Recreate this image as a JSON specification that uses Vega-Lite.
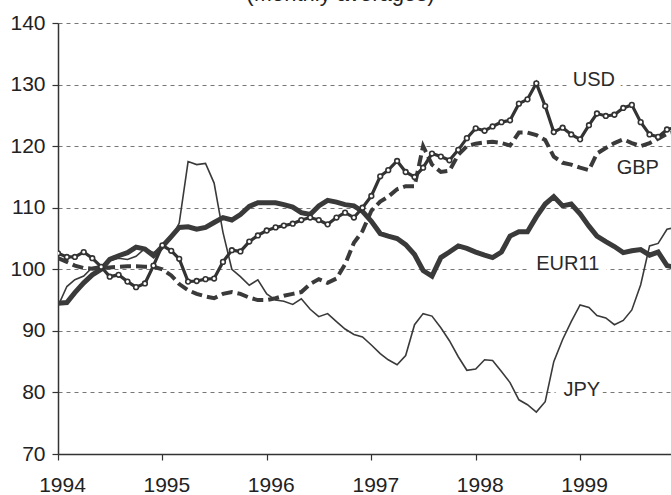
{
  "$schema": "https://vega.github.io/schema/vega-lite/v6.json",
  "width": 613,
  "height": 431,
  "autosize": {"type": "none"},
  "padding": {"left": 58, "top": 23, "right": 0, "bottom": 41},
  "background": "white",
  "title": {"text": "(Monthly averages)", "fontSize": 22, "font": "Liberation Sans", "fontWeight": "normal", "color": "#222", "anchor": "middle", "offset": 3, "baseline": "alphabetic", "dx": -24, "dy": 14},
  "config": {
    "view": {"stroke": null},
    "font": "Liberation Sans",
    "axisX": {"grid": false, "domainColor": "#333", "domainWidth": 1.5, "tickColor": "#333", "tickWidth": 1.2, "tickSize": 6, "labelFont": "Liberation Sans", "labelFontSize": 21, "labelColor": "#222", "labelPadding": 14, "labelOffset": 4, "labelFlush": false, "labelOverlap": false, "format": "%Y", "title": null},
    "axisY": {"grid": true, "gridColor": "#777", "gridDash": [4, 4], "gridWidth": 1, "domainColor": "#333", "domainWidth": 1.5, "tickColor": "#333", "tickWidth": 1.2, "tickSize": 6, "labelFont": "Liberation Sans", "labelFontSize": 21, "labelColor": "#222", "labelPadding": 7, "labelOverlap": false, "labelFlush": false, "title": null}
  },
  "datasets": {
    "fx": [
      {"date": "1994-01-01", "USD": 102.6, "GBP": 101.8, "EUR11": 94.5, "JPY": 94.0},
      {"date": "1994-02-01", "USD": 102.0, "GBP": 101.2, "EUR11": 94.6, "JPY": 97.2},
      {"date": "1994-03-01", "USD": 102.0, "GBP": 100.6, "EUR11": 96.2, "JPY": 98.3},
      {"date": "1994-04-01", "USD": 102.8, "GBP": 100.2, "EUR11": 97.8, "JPY": 98.9},
      {"date": "1994-05-01", "USD": 101.8, "GBP": 100.1, "EUR11": 99.1, "JPY": 100.3},
      {"date": "1994-06-01", "USD": 100.4, "GBP": 100.2, "EUR11": 100.0, "JPY": 100.6},
      {"date": "1994-07-01", "USD": 98.8, "GBP": 100.3, "EUR11": 101.6, "JPY": 101.4},
      {"date": "1994-08-01", "USD": 99.1, "GBP": 100.4, "EUR11": 102.2, "JPY": 101.8},
      {"date": "1994-09-01", "USD": 98.0, "GBP": 100.5, "EUR11": 102.7, "JPY": 101.6},
      {"date": "1994-10-01", "USD": 97.1, "GBP": 100.5, "EUR11": 103.6, "JPY": 102.1},
      {"date": "1994-11-01", "USD": 97.7, "GBP": 100.4, "EUR11": 103.3, "JPY": 103.4},
      {"date": "1994-12-01", "USD": 100.6, "GBP": 100.4, "EUR11": 102.2, "JPY": 102.7},
      {"date": "1995-01-01", "USD": 103.9, "GBP": 100.0, "EUR11": 103.7, "JPY": 103.6},
      {"date": "1995-02-01", "USD": 103.0, "GBP": 99.0, "EUR11": 105.3, "JPY": 105.0},
      {"date": "1995-03-01", "USD": 101.7, "GBP": 97.6, "EUR11": 106.8, "JPY": 107.5},
      {"date": "1995-04-01", "USD": 98.0, "GBP": 96.6, "EUR11": 106.9, "JPY": 117.5},
      {"date": "1995-05-01", "USD": 98.1, "GBP": 96.0, "EUR11": 106.5, "JPY": 117.0},
      {"date": "1995-06-01", "USD": 98.4, "GBP": 95.6, "EUR11": 106.8, "JPY": 117.2},
      {"date": "1995-07-01", "USD": 98.5, "GBP": 95.3, "EUR11": 107.6, "JPY": 114.0},
      {"date": "1995-08-01", "USD": 101.2, "GBP": 96.0, "EUR11": 108.4, "JPY": 106.0},
      {"date": "1995-09-01", "USD": 103.1, "GBP": 96.3, "EUR11": 108.0, "JPY": 100.0},
      {"date": "1995-10-01", "USD": 102.9, "GBP": 96.0, "EUR11": 108.9, "JPY": 98.8},
      {"date": "1995-11-01", "USD": 104.5, "GBP": 95.4, "EUR11": 110.2, "JPY": 97.4},
      {"date": "1995-12-01", "USD": 105.5, "GBP": 95.0, "EUR11": 110.8, "JPY": 98.3},
      {"date": "1996-01-01", "USD": 106.3, "GBP": 95.0, "EUR11": 110.8, "JPY": 96.0},
      {"date": "1996-02-01", "USD": 106.8, "GBP": 95.3, "EUR11": 110.8, "JPY": 95.0},
      {"date": "1996-03-01", "USD": 107.1, "GBP": 95.7, "EUR11": 110.5, "JPY": 94.8},
      {"date": "1996-04-01", "USD": 107.4, "GBP": 96.0, "EUR11": 110.1, "JPY": 94.3},
      {"date": "1996-05-01", "USD": 108.0, "GBP": 96.3, "EUR11": 109.2, "JPY": 95.2},
      {"date": "1996-06-01", "USD": 108.4, "GBP": 97.6, "EUR11": 108.9, "JPY": 93.5},
      {"date": "1996-07-01", "USD": 108.0, "GBP": 98.4, "EUR11": 110.3, "JPY": 92.3},
      {"date": "1996-08-01", "USD": 107.3, "GBP": 97.8, "EUR11": 111.2, "JPY": 92.8},
      {"date": "1996-09-01", "USD": 108.4, "GBP": 98.5, "EUR11": 110.9, "JPY": 91.5},
      {"date": "1996-10-01", "USD": 109.2, "GBP": 100.8, "EUR11": 110.5, "JPY": 90.3},
      {"date": "1996-11-01", "USD": 108.4, "GBP": 104.3, "EUR11": 110.3, "JPY": 89.4},
      {"date": "1996-12-01", "USD": 110.0, "GBP": 106.2, "EUR11": 109.4, "JPY": 89.0},
      {"date": "1997-01-01", "USD": 111.9, "GBP": 109.5, "EUR11": 107.8, "JPY": 87.7},
      {"date": "1997-02-01", "USD": 115.1, "GBP": 111.0, "EUR11": 105.8, "JPY": 86.3},
      {"date": "1997-03-01", "USD": 116.1, "GBP": 111.8, "EUR11": 105.4, "JPY": 85.3},
      {"date": "1997-04-01", "USD": 117.6, "GBP": 113.0, "EUR11": 105.0, "JPY": 84.5},
      {"date": "1997-05-01", "USD": 115.8, "GBP": 113.5, "EUR11": 104.0, "JPY": 86.0},
      {"date": "1997-06-01", "USD": 115.0, "GBP": 113.5, "EUR11": 102.4, "JPY": 91.0},
      {"date": "1997-07-01", "USD": 116.5, "GBP": 120.0, "EUR11": 99.8, "JPY": 92.8},
      {"date": "1997-08-01", "USD": 118.8, "GBP": 117.0, "EUR11": 98.9, "JPY": 92.4},
      {"date": "1997-09-01", "USD": 118.3, "GBP": 115.8, "EUR11": 101.9, "JPY": 90.5},
      {"date": "1997-10-01", "USD": 117.7, "GBP": 116.0, "EUR11": 102.8, "JPY": 88.4},
      {"date": "1997-11-01", "USD": 119.4, "GBP": 118.6, "EUR11": 103.8, "JPY": 85.8},
      {"date": "1997-12-01", "USD": 121.3, "GBP": 120.0, "EUR11": 103.4, "JPY": 83.6},
      {"date": "1998-01-01", "USD": 122.9, "GBP": 120.4, "EUR11": 102.8, "JPY": 83.8},
      {"date": "1998-02-01", "USD": 122.5, "GBP": 120.6, "EUR11": 102.3, "JPY": 85.3},
      {"date": "1998-03-01", "USD": 123.2, "GBP": 120.7, "EUR11": 101.9, "JPY": 85.2},
      {"date": "1998-04-01", "USD": 123.9, "GBP": 120.5, "EUR11": 102.8, "JPY": 83.4},
      {"date": "1998-05-01", "USD": 124.2, "GBP": 120.1, "EUR11": 105.4, "JPY": 81.6},
      {"date": "1998-06-01", "USD": 126.9, "GBP": 122.2, "EUR11": 106.1, "JPY": 78.8},
      {"date": "1998-07-01", "USD": 127.6, "GBP": 122.2, "EUR11": 106.1, "JPY": 78.0},
      {"date": "1998-08-01", "USD": 130.2, "GBP": 121.8, "EUR11": 108.5, "JPY": 76.8},
      {"date": "1998-09-01", "USD": 126.5, "GBP": 121.0, "EUR11": 110.6, "JPY": 78.5},
      {"date": "1998-10-01", "USD": 122.3, "GBP": 118.3, "EUR11": 111.8, "JPY": 85.0},
      {"date": "1998-11-01", "USD": 123.0, "GBP": 117.3, "EUR11": 110.3, "JPY": 88.6},
      {"date": "1998-12-01", "USD": 121.9, "GBP": 117.0, "EUR11": 110.6, "JPY": 91.5},
      {"date": "1999-01-01", "USD": 121.1, "GBP": 116.5, "EUR11": 109.0, "JPY": 94.2},
      {"date": "1999-02-01", "USD": 123.4, "GBP": 116.1, "EUR11": 107.0, "JPY": 93.8},
      {"date": "1999-03-01", "USD": 125.3, "GBP": 118.8, "EUR11": 105.4, "JPY": 92.5},
      {"date": "1999-04-01", "USD": 124.9, "GBP": 119.7, "EUR11": 104.5, "JPY": 92.1},
      {"date": "1999-05-01", "USD": 125.1, "GBP": 120.5, "EUR11": 103.7, "JPY": 91.0},
      {"date": "1999-06-01", "USD": 126.2, "GBP": 121.1, "EUR11": 102.7, "JPY": 91.7},
      {"date": "1999-07-01", "USD": 126.7, "GBP": 120.5, "EUR11": 103.0, "JPY": 93.4},
      {"date": "1999-08-01", "USD": 123.9, "GBP": 120.0, "EUR11": 103.2, "JPY": 97.5},
      {"date": "1999-09-01", "USD": 121.9, "GBP": 120.5, "EUR11": 102.3, "JPY": 103.8},
      {"date": "1999-10-01", "USD": 121.5, "GBP": 121.2, "EUR11": 102.8, "JPY": 104.2},
      {"date": "1999-11-01", "USD": 122.7, "GBP": 122.0, "EUR11": 100.6, "JPY": 106.5},
      {"date": "1999-12-01", "USD": 123.0, "GBP": 122.3, "EUR11": 100.3, "JPY": 106.8}
    ],
    "labels": [
      {"date": "1999-02-18", "value": 130.7, "text": "USD"},
      {"date": "1999-07-22", "value": 116.4, "text": "GBP"},
      {"date": "1998-11-19", "value": 100.9, "text": "EUR11"},
      {"date": "1999-01-07", "value": 80.4, "text": "JPY"}
    ]
  },
  "layer": [
    {
      "data": {"name": "labels"},
      "mark": {"type": "text", "fontSize": 20, "font": "Liberation Sans", "fill": "white", "stroke": "white", "strokeWidth": 16, "align": "center", "baseline": "middle"},
      "encoding": {
        "x": {"field": "date", "type": "temporal", "title": null, "scale": {"type": "utc", "domain": [{"year": 1994, "month": 1, "date": 1, "utc": true}, {"year": 1999, "month": 11, "date": 15, "utc": true}]}, "axis": {"values": [{"year": 1994, "month": 1, "date": 1, "utc": true}, {"year": 1995, "month": 1, "date": 1, "utc": true}, {"year": 1996, "month": 1, "date": 1, "utc": true}, {"year": 1997, "month": 1, "date": 1, "utc": true}, {"year": 1998, "month": 1, "date": 1, "utc": true}, {"year": 1999, "month": 1, "date": 1, "utc": true}]}},
        "y": {"field": "value", "type": "quantitative", "title": null, "scale": {"domain": [70, 140]}, "axis": {"values": [70, 80, 90, 100, 110, 120, 130, 140]}},
        "text": {"field": "text"}
      }
    },
    {
      "mark": {"type": "rule", "color": "#444", "strokeWidth": 1.5},
      "encoding": {"y": {"datum": 140, "type": "quantitative", "scale": {"domain": [70, 140]}, "title": null}}
    },
    {
      "data": {"name": "fx"},
      "mark": {"type": "line", "color": "#3a3a3a", "strokeWidth": 1.6, "clip": true},
      "encoding": {
        "x": {"field": "date", "type": "temporal", "title": null, "scale": {"type": "utc", "domain": [{"year": 1994, "month": 1, "date": 1, "utc": true}, {"year": 1999, "month": 11, "date": 15, "utc": true}]}},
        "y": {"field": "JPY", "type": "quantitative", "title": null, "scale": {"domain": [70, 140]}}
      }
    },
    {
      "data": {"name": "fx"},
      "mark": {"type": "line", "color": "#3a3a3a", "strokeWidth": 4, "strokeDash": [11, 5], "clip": true},
      "encoding": {
        "x": {"field": "date", "type": "temporal", "title": null, "scale": {"type": "utc", "domain": [{"year": 1994, "month": 1, "date": 1, "utc": true}, {"year": 1999, "month": 11, "date": 15, "utc": true}]}},
        "y": {"field": "GBP", "type": "quantitative", "title": null, "scale": {"domain": [70, 140]}}
      }
    },
    {
      "data": {"name": "fx"},
      "mark": {"type": "line", "color": "#3a3a3a", "strokeWidth": 5, "clip": true},
      "encoding": {
        "x": {"field": "date", "type": "temporal", "title": null, "scale": {"type": "utc", "domain": [{"year": 1994, "month": 1, "date": 1, "utc": true}, {"year": 1999, "month": 11, "date": 15, "utc": true}]}},
        "y": {"field": "EUR11", "type": "quantitative", "title": null, "scale": {"domain": [70, 140]}}
      }
    },
    {
      "data": {"name": "fx"},
      "mark": {"type": "line", "color": "#333", "strokeWidth": 3.2, "clip": true, "point": {"filled": false, "fill": "white", "stroke": "#333", "strokeWidth": 1.6, "size": 22, "clip": true}},
      "encoding": {
        "x": {"field": "date", "type": "temporal", "title": null, "scale": {"type": "utc", "domain": [{"year": 1994, "month": 1, "date": 1, "utc": true}, {"year": 1999, "month": 11, "date": 15, "utc": true}]}},
        "y": {"field": "USD", "type": "quantitative", "title": null, "scale": {"domain": [70, 140]}}
      }
    },
    {
      "data": {"name": "labels"},
      "mark": {"type": "text", "fontSize": 20, "font": "Liberation Sans", "color": "#2a2a2a", "align": "center", "baseline": "middle"},
      "encoding": {
        "x": {"field": "date", "type": "temporal", "title": null, "scale": {"type": "utc", "domain": [{"year": 1994, "month": 1, "date": 1, "utc": true}, {"year": 1999, "month": 11, "date": 15, "utc": true}]}},
        "y": {"field": "value", "type": "quantitative", "title": null, "scale": {"domain": [70, 140]}},
        "text": {"field": "text"}
      }
    }
  ]
}
